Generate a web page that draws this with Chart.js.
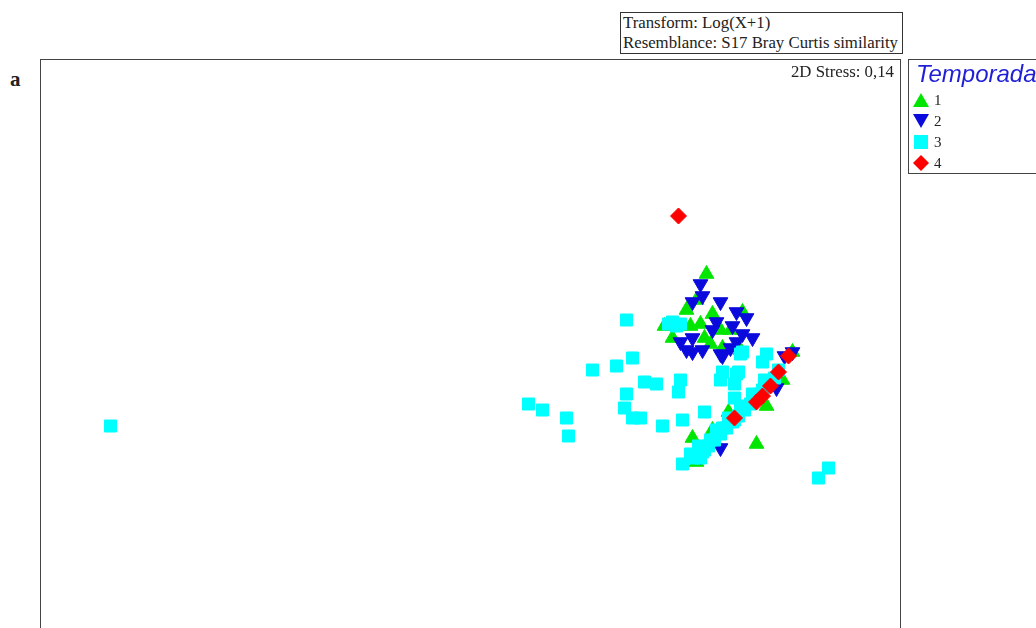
<!DOCTYPE html>
<html>
<head>
<meta charset="utf-8">
<script src="https://cdn.jsdelivr.net/npm/chart.js@4"></script>
<style>
  html, body { margin: 0; padding: 0; background: #fff; overflow: hidden; }
  body { width: 1036px; height: 628px; position: relative; font-family: "Liberation Serif", serif; color: #222; }
  .info-box { position: absolute; left: 620px; top: 12px; width: 279px; height: 40px; border: 1px solid #333; font-size: 16.8px; line-height: 19.5px; padding: 0 0 0 2px; box-sizing: content-box; white-space: nowrap; overflow: hidden; }
  .panel-label { position: absolute; left: 10px; top: 67px; font-size: 21px; font-weight: bold; }
  .plot-frame { position: absolute; left: 40px; top: 59px; width: 859px; height: 640px; border: 1px solid #444; }
  .stress { position: absolute; right: 142px; top: 62px; font-size: 16.8px; }
  .legend { position: absolute; left: 908px; top: 59px; width: 140px; height: 113px; border: 1px solid #444; }
  .legend .title { position: absolute; left: 7px; top: 0; font-family: "Liberation Sans", Arial, sans-serif; font-style: italic; font-size: 24px; color: #1f1fd6; white-space: nowrap; }
  .legend .item { position: absolute; left: 3px; height: 18px; font-size: 15px; line-height: 18px; }
  .legend .item svg { position: absolute; left: 0; top: 1px; }
  .legend .item span { position: absolute; left: 22px; top: 0; }
</style>
</head>
<body>
  <div class="info-box">Transform: Log(X+1)<br>Resemblance: S17 Bray Curtis similarity</div>
  <div class="panel-label">a</div>
  <div class="plot-frame"><canvas id="mdsChart"></canvas></div>
  <div class="stress">2D Stress: 0,14</div>
  <div class="legend">
    <div class="title">Temporada</div>
    <div class="item" style="top: 31px"><svg width="18" height="16"><polygon points="1,15 9,1 17,15" fill="#00e600"/></svg><span>1</span></div>
    <div class="item" style="top: 52px"><svg width="18" height="16"><polygon points="1,1 17,1 9,15" fill="#0a0adc"/></svg><span>2</span></div>
    <div class="item" style="top: 73px"><svg width="18" height="16"><rect x="2" y="1" width="14" height="14" fill="#00ffff"/></svg><span>3</span></div>
    <div class="item" style="top: 94px"><svg width="18" height="16"><polygon points="9,0 17,8 9,16 1,8" fill="#ff0000"/></svg><span>4</span></div>
  </div>

<script>
const seasonLabels = ['1', '2', '3', '4'];

// MDS coordinates
const season1 = [
  [1.18, 0.48], [0.97, 0.22], [1.01, 0.16], [1.15, 0.23], [1.21, 0.28], [1.25, 0.20],
  [1.30, 0.20], [1.36, 0.29], [1.20, 0.13], [1.26, 0.11], [1.35, 0.10], [1.08, 0.30],
  [1.13, 0.35], [1.17, 0.16], [1.10, 0.22], [1.11, -0.34], [1.21, -0.30], [1.43, -0.37],
  [1.13, -0.46], [1.29, -0.21], [1.48, -0.18], [1.56, -0.05], [1.61, 0.09]
];

const season2 = [
  [1.15, 0.43], [1.16, 0.37], [1.11, 0.34], [1.25, 0.34], [1.33, 0.29], [1.38, 0.26],
  [1.23, 0.24], [1.21, 0.20], [1.31, 0.22], [1.36, 0.18], [1.41, 0.16], [1.05, 0.14],
  [1.11, 0.16], [1.16, 0.10], [1.11, 0.09], [1.30, 0.11], [1.33, 0.14], [1.25, 0.08],
  [1.08, 0.10], [1.26, 0.07], [1.53, -0.09], [1.61, 0.09], [1.57, 0.07], [1.15, -0.43],
  [1.25, -0.39]
];

const season3 = [
  [-1.80, -0.28], [0.29, -0.17], [0.36, -0.20], [0.48, -0.24], [0.49, -0.33], [0.61, 0.00],
  [0.73, 0.02], [0.81, 0.06], [0.78, 0.25], [0.87, -0.06], [0.93, -0.07], [1.05, -0.05],
  [1.04, -0.11], [0.78, -0.12], [0.77, -0.19], [0.81, -0.24], [0.85, -0.24], [0.96, -0.28],
  [1.06, -0.25], [1.17, -0.21], [1.74, -0.54], [1.79, -0.49],
  [1.01, 0.24], [1.05, 0.23], [0.99, 0.23], [1.03, 0.22],
  [1.36, 0.09], [1.48, 0.08], [1.46, 0.04], [1.26, -0.01], [1.34, -0.01], [1.25, -0.05],
  [1.32, -0.07], [1.32, -0.14], [1.35, 0.08], [1.33, -0.02], [1.15, -0.44], [1.06, -0.47],
  [1.12, -0.44], [1.16, -0.41], [1.19, -0.38], [1.22, -0.35], [1.25, -0.32], [1.28, -0.29],
  [1.31, -0.26], [1.34, -0.23], [1.37, -0.20], [1.40, -0.17], [1.43, -0.14], [1.46, -0.10],
  [1.49, -0.07], [1.52, -0.04], [1.54, 0.00], [1.20, -0.35], [1.26, -0.29], [1.32, -0.25],
  [1.17, -0.40], [1.37, -0.18], [1.45, -0.12], [1.23, -0.30], [1.29, -0.24], [1.35, -0.19],
  [1.41, -0.12], [1.47, -0.05], [1.14, -0.38], [1.10, -0.42]
];

const season4 = [
  [1.04, 0.77], [1.32, -0.24], [1.43, -0.16], [1.46, -0.13], [1.50, -0.08], [1.54, -0.01],
  [1.59, 0.07]
];

const xRange = [-2.1475, 2.1475];
const yRange = [-1.65, 1.55];

const toPoints = (pairs) => pairs.map(([x, y]) => ({ x, y }));

function makeDataset(label, pairs, color, style, radius, rotation, order) {
  return {
    label,
    data: toPoints(pairs),
    backgroundColor: color,
    borderColor: color,
    borderWidth: 1,
    pointStyle: style,
    pointRadius: radius,
    pointRotation: rotation,
    order
  };
}

const ctx = document.getElementById('mdsChart');

new Chart(ctx, {
  type: 'scatter',
  data: {
    datasets: [
      makeDataset(seasonLabels[0], season1, '#00e600', 'triangle', 8.5, 0, 4),
      makeDataset(seasonLabels[1], season2, '#0a0adc', 'triangle', 8.5, 180, 3),
      makeDataset(seasonLabels[2], season3, '#00ffff', 'rect', 8.5, 0, 2),
      makeDataset(seasonLabels[3], season4, '#ff0000', 'rectRot', 8, 0, 1)
    ]
  },
  options: {
    responsive: true,
    maintainAspectRatio: false,
    animation: false,
    layout: { padding: 0, autoPadding: false },
    plugins: {
      legend: { display: false },
      tooltip: { enabled: false }
    },
    scales: {
      x: { type: 'linear', min: xRange[0], max: xRange[1], display: false },
      y: { type: 'linear', min: yRange[0], max: yRange[1], display: false }
    }
  }
});
</script>
</body>
</html>
